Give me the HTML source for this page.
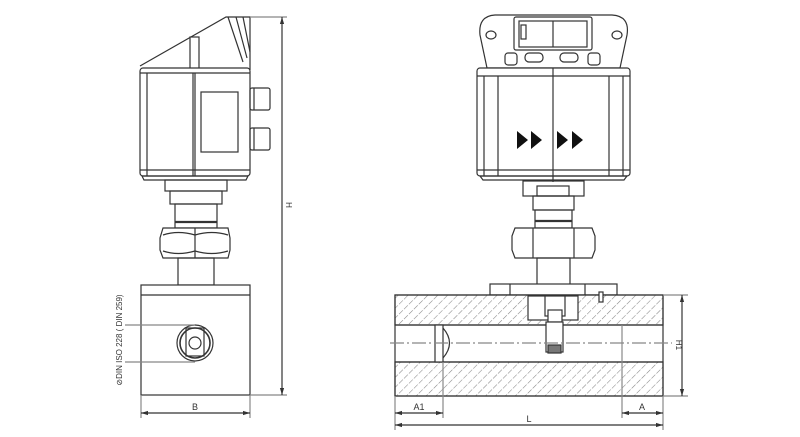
<!DOCTYPE html>
<html><head><meta charset="utf-8"><style>
html,body{margin:0;padding:0;background:#fff;}
svg{display:block;}
text{font-family:"Liberation Sans",sans-serif;fill:#333;}
</style></head><body>
<svg width="800" height="437" viewBox="0 0 800 437" xmlns="http://www.w3.org/2000/svg">
<defs>
<pattern id="h" patternUnits="userSpaceOnUse" width="7" height="7" patternTransform="rotate(45)">
<rect width="7" height="7" fill="#fff"/><line x1="0" y1="0" x2="0" y2="7" stroke="#888" stroke-width="1.1" stroke-dasharray="3,1.5"/>
</pattern>
<marker id="ar" viewBox="0 0 10 10" refX="10" refY="5" markerWidth="6" markerHeight="6" orient="auto-start-reverse"><path d="M0,2L10,5L0,8z" fill="#333"/></marker>
</defs>
<g fill="none" stroke="#333" stroke-width="1.2">
<path d="M140,66 L226,17 L250,17 L250,70" fill="#fff"/>
<path d="M228,17 L243,62 M236,17 L247,58 M243,17 L250,52"/>
<rect x="190" y="37" width="9" height="33" fill="#fff"/>
<rect x="140" y="68" width="110" height="108" rx="3" fill="#fff"/>
<line x1="140" y1="73" x2="250" y2="73"/>
<line x1="147" y1="73" x2="147" y2="176"/>
<line x1="193" y1="73" x2="193" y2="176"/>
<line x1="195" y1="73" x2="195" y2="176"/>
<rect x="201" y="92" width="37" height="60"/>
<line x1="140" y1="170" x2="250" y2="170"/>
<path d="M142,176 L248,176 L246,180 L144,180z"/>
<rect x="250" y="88" width="20" height="22" rx="2"/>
<rect x="250" y="128" width="20" height="22" rx="2"/>
<line x1="254" y1="88" x2="254" y2="110"/><line x1="254" y1="128" x2="254" y2="150"/>
<rect x="165" y="180" width="62" height="11"/>
<rect x="170" y="191" width="52" height="13"/>
<rect x="175" y="204" width="42" height="24"/>
<line x1="175" y1="222" x2="217" y2="222" stroke-width="2.2"/>
<path d="M163,228 L228,228 L230,238 L230,250 L228,258 L163,258 L160,250 L160,238z" fill="#fff"/>
<line x1="195" y1="228" x2="195" y2="258"/>
<path d="M163,235 Q178,230 195,235 Q212,230 228,235 M163,251 Q178,256 195,251 Q212,256 228,251"/>
<rect x="178" y="258" width="36" height="27"/>
<rect x="141" y="285" width="109" height="110" fill="#fff"/>
<line x1="141" y1="295" x2="250" y2="295"/>
<circle cx="195" cy="343" r="18"/><circle cx="195" cy="343" r="15" stroke-width="1.6"/>
<rect x="186" y="328" width="18" height="28"/>
<circle cx="195" cy="343" r="6"/>
<line x1="125" y1="325" x2="195" y2="325" stroke="#888"/>
<line x1="125" y1="362" x2="195" y2="362" stroke="#888"/>
<line x1="250" y1="17" x2="287" y2="17" stroke="#888"/>
<line x1="250" y1="395" x2="287" y2="395" stroke="#888"/>
<line x1="282" y1="17" x2="282" y2="395" marker-start="url(#ar)" marker-end="url(#ar)"/>
<line x1="141" y1="395" x2="141" y2="418" stroke="#888"/>
<line x1="250" y1="395" x2="250" y2="418" stroke="#888"/>
<line x1="141" y1="413" x2="250" y2="413" marker-start="url(#ar)" marker-end="url(#ar)"/>

<path d="M487,68 L480,35 Q478,16 495,15 L612,15 Q630,16 627,35 L620,68z" fill="#fff"/>
<rect x="514" y="17" width="78" height="33" rx="2"/>
<rect x="519" y="21" width="68" height="26"/>
<line x1="553" y1="21" x2="553" y2="47"/>
<rect x="521" y="25" width="5" height="14"/>
<ellipse cx="491" cy="35" rx="5" ry="4"/><ellipse cx="617" cy="35" rx="5" ry="4"/>
<rect x="525" y="53" width="18" height="9" rx="4"/><rect x="560" y="53" width="18" height="9" rx="4"/>
<rect x="505" y="53" width="12" height="12" rx="3"/><rect x="588" y="53" width="12" height="12" rx="3"/>
<rect x="477" y="68" width="153" height="108" rx="3" fill="#fff"/>
<line x1="477" y1="76" x2="630" y2="76"/>
<line x1="484" y1="76" x2="484" y2="176"/><line x1="498" y1="76" x2="498" y2="176"/>
<line x1="553" y1="68" x2="553" y2="182"/>
<line x1="609" y1="76" x2="609" y2="176"/><line x1="623" y1="76" x2="623" y2="176"/>
<line x1="477" y1="170" x2="630" y2="170"/>
<path d="M480,176 L627,176 L624,180 L483,180z"/>
<rect x="523" y="181" width="61" height="15"/>
<rect x="537" y="186" width="32" height="10"/>
<rect x="533" y="196" width="41" height="14"/>
<rect x="535" y="210" width="37" height="18"/>
<line x1="535" y1="221" x2="572" y2="221" stroke-width="2.2"/>
<path d="M515,228 L592,228 L595,236 L595,250 L592,258 L515,258 L512,250 L512,236z" fill="#fff"/>
<line x1="533" y1="228" x2="533" y2="258"/><line x1="574" y1="228" x2="574" y2="258"/>
<rect x="537" y="258" width="33" height="27"/>
<rect x="490" y="284" width="127" height="11" fill="#fff"/>
<line x1="510" y1="284" x2="510" y2="295"/><line x1="585" y1="284" x2="585" y2="295"/>
<rect x="395" y="295" width="268" height="30" fill="url(#h)"/>
<rect x="395" y="362" width="268" height="34" fill="url(#h)"/>
<rect x="395" y="295" width="268" height="101"/>
<line x1="395" y1="325" x2="663" y2="325"/><line x1="395" y1="362" x2="663" y2="362"/>
<rect x="528" y="296" width="50" height="24" fill="#fff"/>
<rect x="545" y="296" width="20" height="20" fill="#fff"/>
<rect x="548" y="310" width="14" height="12" fill="#fff"/>
<rect x="546" y="322" width="17" height="30" fill="#fff"/>
<rect x="548" y="345" width="13" height="8" fill="#777"/>
<rect x="599" y="292" width="4" height="10" fill="#fff"/>
<rect x="435" y="325" width="8" height="37" fill="#fff"/>
<path d="M443,328 Q456,343 443,358" />
<line x1="390" y1="343" x2="672" y2="343" stroke="#888" stroke-dasharray="14,3,2,3"/>
<line x1="663" y1="295" x2="688" y2="295" stroke="#888"/>
<line x1="663" y1="396" x2="688" y2="396" stroke="#888"/>
<line x1="682" y1="295" x2="682" y2="396" marker-start="url(#ar)" marker-end="url(#ar)"/>
<line x1="395" y1="396" x2="395" y2="430" stroke="#888"/>
<line x1="663" y1="396" x2="663" y2="430" stroke="#888"/>
<line x1="443" y1="362" x2="443" y2="418" stroke="#888"/>
<line x1="622" y1="325" x2="622" y2="418" stroke="#888"/>
<line x1="395" y1="413" x2="443" y2="413" marker-start="url(#ar)" marker-end="url(#ar)"/>
<line x1="622" y1="413" x2="663" y2="413" marker-start="url(#ar)" marker-end="url(#ar)"/>
<line x1="395" y1="425" x2="663" y2="425" marker-start="url(#ar)" marker-end="url(#ar)"/>
</g>
<g fill="#111">
<path d="M517,131 L517,149 L528,140z M531,131 L531,149 L542,140z M557,131 L557,149 L568,140z M572,131 L572,149 L583,140z"/>
</g>
<text x="286" y="205" font-size="8" transform="rotate(90 286 205)" text-anchor="middle">H</text>
<text x="195" y="410" font-size="9" text-anchor="middle">B</text>
<text x="122" y="340" font-size="8" transform="rotate(-90 122 340)" text-anchor="middle">⊘DIN ISO 228 ( DIN 259)</text>
<text x="419" y="410" font-size="9" text-anchor="middle">A1</text>
<text x="642" y="410" font-size="9" text-anchor="middle">A</text>
<text x="529" y="422" font-size="9" text-anchor="middle">L</text>
<text x="676" y="345" font-size="8" transform="rotate(90 676 345)" text-anchor="middle">H1</text>
</svg>
</body></html>
